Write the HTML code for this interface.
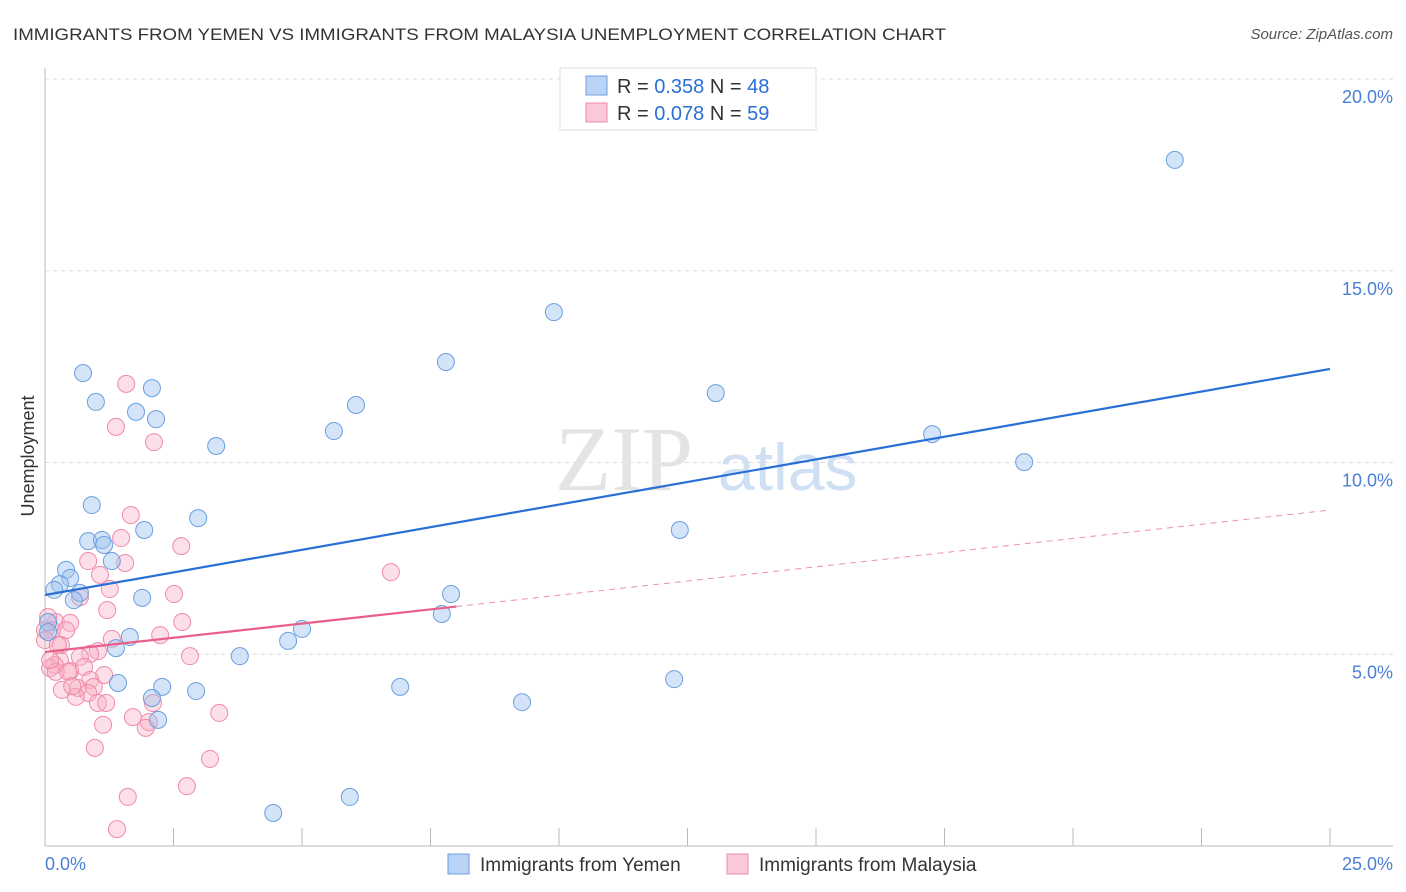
<!DOCTYPE html>
<html><head><meta charset="utf-8"><style>
html,body{margin:0;padding:0;background:#fff;}
svg{display:block;font-family:"Liberation Sans",sans-serif;}
</style></head><body>
<svg id="chart" width="1406" height="892" viewBox="0 0 1406 892">
<text x="13" y="40" font-size="17" fill="#333" textLength="933" lengthAdjust="spacingAndGlyphs">IMMIGRANTS FROM YEMEN VS IMMIGRANTS FROM MALAYSIA UNEMPLOYMENT CORRELATION CHART</text>
<text x="1393" y="39" font-size="15" fill="#555" font-style="italic" text-anchor="end">Source: ZipAtlas.com</text>
<g id="grid"></g>
<g>
<text x="555" y="490" font-size="92" fill="#e4e4e4" font-family="Liberation Serif,serif">ZIP</text>
<text x="718" y="490" font-size="66" fill="#cfe0f3">atlas</text>
</g>
<line x1="45" y1="68" x2="45" y2="846" stroke="#bbb"/>
<line x1="45" y1="846" x2="1393" y2="846" stroke="#bbb"/>
<g id="xticks"></g>
<g id="yticks"></g>
<text x="45" y="870" font-size="18" fill="#4a7fd6">0.0%</text>
<text x="1393" y="870" font-size="18" fill="#4a7fd6" text-anchor="end">25.0%</text>
<text transform="translate(34,456) rotate(-90)" font-size="18" fill="#333" text-anchor="middle">Unemployment</text>
<g id="pinkPts"></g>
<g id="bluePts"></g>
<g id="lines"></g>
<g>
<rect x="560" y="68" width="256" height="62" fill="#fff" stroke="#ddd"/>
<rect x="586" y="76" width="21" height="19" fill="#b8d3f5" stroke="#6a9fe0"/>
<rect x="586" y="103" width="21" height="19" fill="#f9c9d7" stroke="#f08aa8"/>
<text x="617" y="93" font-size="20" fill="#333">R = <tspan fill="#2a6fd6">0.358</tspan>   N = <tspan fill="#2a6fd6">48</tspan></text>
<text x="617" y="120" font-size="20" fill="#333">R = <tspan fill="#2a6fd6">0.078</tspan>   N = <tspan fill="#2a6fd6">59</tspan></text>
</g>
<g>
<rect x="448" y="854" width="21" height="20" fill="#b8d3f5" stroke="#6a9fe0"/>
<text x="480" y="871" font-size="19" fill="#333">Immigrants from Yemen</text>
<rect x="727" y="854" width="21" height="20" fill="#f9c9d7" stroke="#f08aa8"/>
<text x="759" y="871" font-size="19" fill="#333">Immigrants from Malaysia</text>
</g>
</svg>
<script>
const yTicks=[5,10,15,20];
const yTickLabels=["5.0%","10.0%","15.0%","20.0%"];
const xTickVals=[0,2.5,5,7.5,10,12.5,15,17.5,20,22.5,25];
const yemenX=[21.98,9.90,7.80,0.74,2.08,0.99,1.77,6.05,2.16,5.62,13.05,3.33,17.26,19.05,0.91,2.98,1.93,12.35,0.84,1.11,1.15,1.30,0.41,0.49,0.29,0.18,0.68,1.89,0.56,7.90,7.72,5.00,4.73,1.65,1.38,0.06,3.79,12.24,1.42,2.28,2.08,2.94,6.91,9.28,2.20,5.93,4.44,0.06];
const yemenY=[17.89,13.92,12.62,12.33,11.94,11.58,11.32,11.50,11.13,10.82,11.81,10.43,10.74,10.01,8.89,8.55,8.24,8.24,7.95,7.98,7.85,7.43,7.20,6.99,6.83,6.68,6.60,6.47,6.41,6.57,6.05,5.66,5.35,5.45,5.16,5.84,4.95,4.35,4.25,4.15,3.86,4.04,4.15,3.75,3.29,1.28,0.86,5.58];
const malaysiaX=[1.58,1.38,2.12,1.67,1.48,2.65,0.84,1.07,1.56,0.68,1.26,1.21,2.51,6.73,0.21,0.49,0.06,0.14,0.41,0.31,1.30,2.24,1.03,0.88,0.68,0.29,0.19,0.49,0.10,0.76,2.82,0.21,0.45,1.15,0.88,0.64,0.95,0.84,0.60,1.03,1.19,2.67,2.10,1.71,2.02,3.39,1.13,1.96,0.97,3.21,1.61,2.76,1.40,0,0,0.10,0.33,0.53,0.25];
const malaysiaY=[12.05,10.93,10.53,8.63,8.03,7.82,7.43,7.07,7.38,6.49,6.70,6.15,6.57,7.14,5.84,5.82,5.97,5.63,5.63,5.24,5.40,5.50,5.08,5.01,4.93,4.85,4.72,4.56,4.64,4.67,4.95,4.54,4.54,4.46,4.33,4.12,4.15,3.99,3.89,3.73,3.73,5.84,3.73,3.36,3.23,3.47,3.16,3.08,2.56,2.27,1.28,1.56,0.44,5.63,5.37,4.85,4.07,4.17,5.24];
const yemenTrend=[6.545,12.44];
const malaysiaTrend=[5.06,8.76];
const malaysiaSolidEnd=8.0;

const NS="http://www.w3.org/2000/svg";
const X0=45,X1=1330,Y0=846,PPU=38.35;
function sx(v){return X0+(v/25)*(X1-X0);}
function sy(v){return Y0-v*PPU;}
function mk(tag,attrs,parent){const e=document.createElementNS(NS,tag);for(const k in attrs)e.setAttribute(k,attrs[k]);parent.appendChild(e);return e;}
const grid=document.getElementById('grid'),yt=document.getElementById('yticks'),xt=document.getElementById('xticks');
yTicks.forEach((t,i)=>{
  const l=mk('line',{x1:45,x2:1393,y1:sy(t),y2:sy(t),stroke:'#ddd','stroke-dasharray':'4,4'},grid);
  
  
  const tx=mk('text',{x:1393,y:sy(t)+24,'font-size':18,fill:'#4a7fd6','text-anchor':'end'},yt);
  tx.textContent=yTickLabels[i];
  
  
});
xTickVals.forEach(v=>{
  const l=mk('line',{x1:sx(v),x2:sx(v),y1:828,y2:846,stroke:'#bbb'},xt);
  
  
});
const pg=document.getElementById('pinkPts');
malaysiaX.forEach((x,i)=>{
  const c=mk('circle',{cx:sx(x),cy:sy(malaysiaY[i]),r:8.5,fill:'rgba(248,175,198,0.4)',stroke:'#f08aa8','stroke-width':1},pg);
  
  
});
const bg=document.getElementById('bluePts');
yemenX.forEach((x,i)=>{
  const c=mk('circle',{cx:sx(x),cy:sy(yemenY[i]),r:8.5,fill:'rgba(160,196,240,0.45)',stroke:'#6a9fe0','stroke-width':1},bg);
  
  
});
const lg=document.getElementById('lines');
const bl=mk('line',{x1:sx(0),y1:sy(yemenTrend[0]),x2:sx(25),y2:sy(yemenTrend[1]),stroke:'#2a6fd6','stroke-width':2.2},lg);


const pAt=x=>malaysiaTrend[0]+(malaysiaTrend[1]-malaysiaTrend[0])*x/25;
const pd=mk('line',{x1:sx(malaysiaSolidEnd),y1:sy(pAt(malaysiaSolidEnd)),x2:sx(25),y2:sy(pAt(25)),stroke:'#e8608a','stroke-width':1,'stroke-dasharray':'6,5',opacity:0.7},lg);


const pl=mk('line',{x1:sx(0),y1:sy(pAt(0)),x2:sx(malaysiaSolidEnd),y2:sy(pAt(malaysiaSolidEnd)),stroke:'#e8608a','stroke-width':2.2},lg);


</script>
</body></html>
